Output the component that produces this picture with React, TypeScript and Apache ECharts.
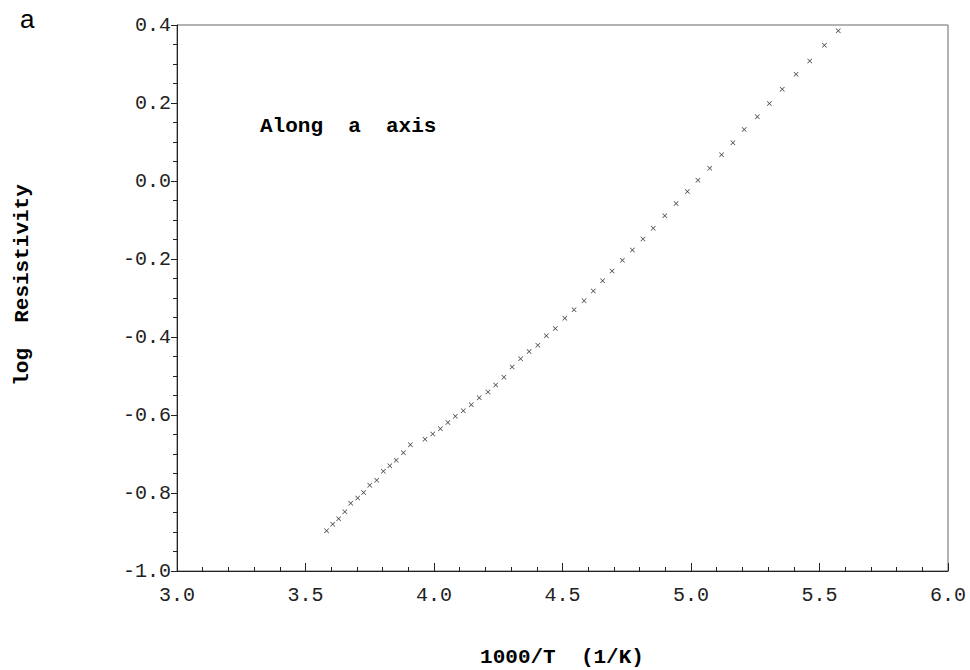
import React, { useEffect, useRef } from "react";
import * as echarts from "echarts";

const xValues = [3.582,3.606,3.629,3.653,3.676,3.703,3.726,3.750,3.777,3.803,3.828,3.853,3.881,3.908,3.965,3.995,4.025,4.054,4.083,4.114,4.145,4.176,4.210,4.240,4.272,4.304,4.337,4.370,4.404,4.437,4.472,4.509,4.545,4.584,4.620,4.656,4.693,4.733,4.772,4.813,4.853,4.898,4.942,4.986,5.027,5.073,5.119,5.163,5.207,5.258,5.305,5.355,5.409,5.462,5.519,5.573];
const yValues = [-0.897,-0.880,-0.866,-0.848,-0.826,-0.813,-0.799,-0.780,-0.767,-0.744,-0.730,-0.716,-0.697,-0.676,-0.662,-0.649,-0.635,-0.619,-0.603,-0.589,-0.574,-0.556,-0.541,-0.523,-0.503,-0.477,-0.456,-0.437,-0.421,-0.397,-0.378,-0.352,-0.330,-0.307,-0.282,-0.256,-0.231,-0.203,-0.177,-0.149,-0.121,-0.089,-0.058,-0.027,0.002,0.033,0.067,0.098,0.132,0.165,0.199,0.235,0.274,0.308,0.348,0.385];

const panelLabel = "a";
const annotation = "Along  a  axis";
const xName = "1000/T  (1/K)";
const yName = "log  Resistivity";

const MONO = "'Liberation Mono', 'Courier New', monospace";
const CROSS = "path://M0,1L1,0L5,4L9,0L10,1L6,5L10,9L9,10L5,6L1,10L0,9L4,5Z";

export default function App() {
  const ref = useRef<HTMLDivElement>(null);
  useEffect(() => {
    if (!ref.current) return;
    const chart = echarts.init(ref.current, null, { renderer: "svg" });
    const data = xValues.map((x, i) => [x, yValues[i]]);
    chart.setOption({
      animation: false,
      backgroundColor: "#fff",
      grid: { left: 177, right: 22, top: 25, bottom: 99, show: true, borderColor: "#666", borderWidth: 1 },
      xAxis: {
        type: "value",
        min: 3.0,
        max: 6.0,
        interval: 0.5,
        axisLine: { show: true, onZero: false, lineStyle: { color: "#222", width: 1 } },
        axisTick: { show: true, inside: true, length: 8, lineStyle: { color: "#222" } },
        minorTick: { show: true, splitNumber: 5, length: 4, lineStyle: { color: "#222" } },
        axisLabel: {
          margin: 14,
          fontFamily: MONO,
          fontSize: 20,
          color: "#222",
          formatter: (v: number) => v.toFixed(1),
        },
        splitLine: { show: false },
      },
      yAxis: {
        type: "value",
        min: -1.0,
        max: 0.4,
        interval: 0.2,
        axisLine: { show: true, onZero: false, lineStyle: { color: "#222", width: 1 } },
        axisTick: { show: true, inside: false, length: 6, lineStyle: { color: "#222" } },
        minorTick: { show: true, splitNumber: 4, length: 4, lineStyle: { color: "#222" } },
        axisLabel: {
          margin: 6,
          fontFamily: MONO,
          fontSize: 20,
          color: "#222",
          formatter: (v: number) => v.toFixed(1),
        },
        splitLine: { show: false },
      },
      series: [
        {
          type: "scatter",
          data,
          symbol: CROSS,
          symbolSize: 5,
          itemStyle: { color: "#111" },
        },
      ],
      graphic: [
        {
          type: "text",
          left: 20,
          top: 6,
          style: { text: panelLabel, font: "26px 'Liberation Sans', Arial, sans-serif", fill: "#000" },
        },
        {
          type: "text",
          x: 260,
          y: 126,
          style: { text: annotation, font: `bold 21px ${MONO}`, fill: "#000", verticalAlign: "middle", align: "left" },
        },
        {
          type: "text",
          x: 562,
          y: 657,
          style: { text: xName, font: `bold 21px ${MONO}`, fill: "#000", verticalAlign: "middle", align: "center" },
        },
        {
          type: "text",
          x: 22,
          y: 285,
          rotation: Math.PI / 2,
          style: { text: yName, font: `bold 21px ${MONO}`, fill: "#000", verticalAlign: "middle", align: "center" },
        },
      ],
    });
    return () => chart.dispose();
  }, []);
  return <div ref={ref} style={{ width: 970, height: 670, position: "absolute", left: 0, top: 0 }} />;
}
